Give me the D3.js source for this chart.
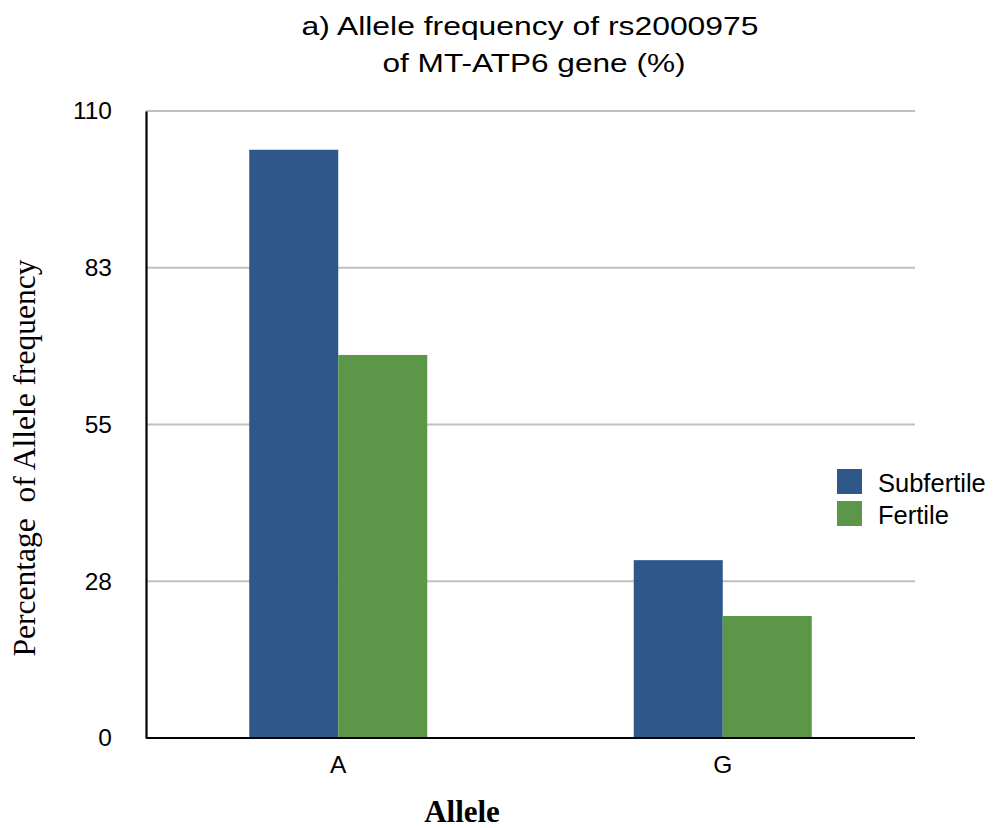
<!DOCTYPE html>
<html>
<head>
<meta charset="utf-8">
<script src="https://cdn.jsdelivr.net/npm/d3@7"></script>
<style>
  html, body { margin: 0; padding: 0; background: #fff; }
  svg { display: block; }
</style>
</head>
<body>
<svg id="chart" width="996" height="828"></svg>
<script>
// Allele frequency of rs2000975 (MT-ATP6), subfertile vs fertile groups
const categories = ["A", "G"];
const seriesNames = ["Subfertile", "Fertile"];
const subfertile = [103.2, 31.2];
const fertile = [67.2, 21.4];
const tickValues = [0, 27.5, 55, 82.5, 110];
const tickLabels = ["0", "28", "55", "83", "110"];
const titleLines = ["a) Allele frequency of rs2000975", "of MT-ATP6 gene (%)"];
const colors = ["#2d5889", "#5c9648"];

const values = [subfertile, fertile];
const rows = categories.map((c, i) => ({
  category: c,
  items: seriesNames.map((s, j) => ({ series: s, value: values[j][i], color: colors[j] }))
}));

const svg = d3.select("#chart");
const sans = "'Liberation Sans', Arial, Helvetica, sans-serif";
const serif = "'Liberation Serif', 'Times New Roman', serif";

const plot = { left: 146, right: 915, top: 111, bottom: 738 };

const x0 = d3.scaleBand().domain(categories).range([plot.left, plot.right]).padding(0);
const x1 = d3.scaleBand().domain(seriesNames).range([0, x0.bandwidth()])
  .paddingInner(0).paddingOuter(1.16);
const y = d3.scaleLinear().domain([0, 110]).range([plot.bottom, plot.top]);

// Horizontal gridlines
svg.append("g")
  .selectAll("line")
  .data(tickValues.filter(v => v > 0))
  .join("line")
  .attr("x1", plot.left).attr("x2", plot.right)
  .attr("y1", d => y(d)).attr("y2", d => y(d))
  .attr("stroke", "#c0c0c0").attr("stroke-width", 2);

// Bars
svg.append("g")
  .selectAll("g")
  .data(rows)
  .join("g")
  .attr("transform", d => `translate(${x0(d.category)},0)`)
  .selectAll("rect")
  .data(d => d.items)
  .join("rect")
  .attr("x", d => x1(d.series))
  .attr("width", x1.bandwidth())
  .attr("y", d => y(d.value))
  .attr("height", d => y(0) - y(d.value))
  .attr("fill", d => d.color);

// Y axis
const yAxis = d3.axisLeft(y)
  .tickValues(tickValues)
  .tickFormat((d, i) => tickLabels[i])
  .tickSize(0)
  .tickPadding(34);
const gy = svg.append("g").attr("transform", `translate(${plot.left},0)`).call(yAxis);
gy.select(".domain").attr("stroke", "#000").attr("stroke-width", 2.2);
gy.selectAll("text")
  .attr("font-family", sans).attr("font-size", 24.5).attr("fill", "#000");

// X axis
const xAxis = d3.axisBottom(x0).tickSize(0).tickPadding(18);
const gx = svg.append("g").attr("transform", `translate(0,${plot.bottom})`).call(xAxis);
gx.select(".domain").attr("stroke", "#000").attr("stroke-width", 2.2)
  .attr("d", `M${plot.left},0H${plot.right}`);
gx.selectAll("text")
  .attr("font-family", sans).attr("font-size", 24.5).attr("fill", "#000");

// Title (two lines, set wide)
const titleLayout = [
  { x: 530, y: 35, len: 457 },
  { x: 534, y: 72, len: 303 }
];
svg.append("g")
  .selectAll("text")
  .data(titleLines)
  .join("text")
  .attr("x", (d, i) => titleLayout[i].x)
  .attr("y", (d, i) => titleLayout[i].y)
  .attr("text-anchor", "middle")
  .attr("textLength", (d, i) => titleLayout[i].len)
  .attr("lengthAdjust", "spacingAndGlyphs")
  .attr("font-family", sans).attr("font-size", 25.5).attr("fill", "#000")
  .text(d => d);

// Axis titles
svg.append("text")
  .attr("transform", "translate(35,458) rotate(-90)")
  .attr("text-anchor", "middle")
  .attr("font-family", serif).attr("font-size", 31.5).attr("fill", "#000")
  .attr("xml:space", "preserve")
  .text("Percentage  of Allele frequency");

svg.append("text")
  .attr("x", 462).attr("y", 822)
  .attr("text-anchor", "middle")
  .attr("font-family", serif).attr("font-size", 31).attr("font-weight", "bold").attr("fill", "#000")
  .text("Allele");

// Legend
const legend = svg.append("g")
  .selectAll("g")
  .data(seriesNames)
  .join("g")
  .attr("transform", (d, i) => `translate(837,${469 + i * 32})`);
legend.append("rect")
  .attr("width", 25).attr("height", 25)
  .attr("fill", (d, i) => colors[i]);
legend.append("text")
  .attr("x", 41).attr("y", 23)
  .attr("font-family", sans).attr("font-size", 25.5).attr("fill", "#000")
  .text(d => d);
</script>
</body>
</html>
